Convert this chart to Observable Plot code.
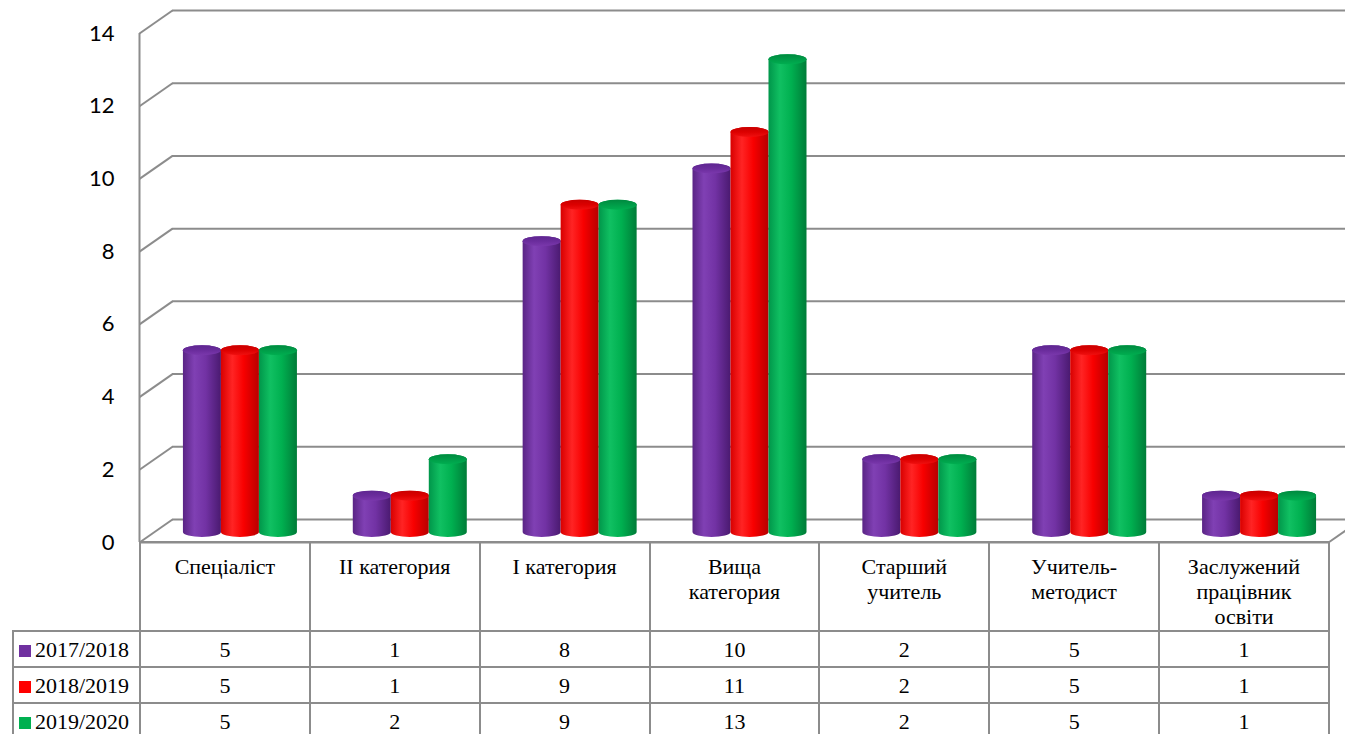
<!DOCTYPE html>
<html><head><meta charset="utf-8">
<script src="https://cdn.jsdelivr.net/npm/d3@7"></script>
<script src="https://cdn.jsdelivr.net/npm/@observablehq/plot@0.6"></script>
<style>
html,body{margin:0;padding:0;background:#fff;overflow:hidden;}
#wrap{position:relative;width:1345px;height:734px;overflow:hidden;}
#wrap svg{position:absolute;left:0;top:0;}
#tbl{position:absolute;left:12px;top:541px;width:1316px;border-collapse:collapse;table-layout:fixed;font-family:"Liberation Serif","Times New Roman",serif;font-size:22px;color:#000;}
#tbl td{border:2px solid #8c8c8c;text-align:center;padding:0;line-height:25px;}
#tbl tr.head td{vertical-align:top;padding-top:11px;white-space:pre-line;height:76px;}
#tbl tr.head td.corner{border-top:none;border-left:none;}
#tbl tr.row td{height:34px;}
#tbl td.leg{text-align:left;padding-left:5px;white-space:nowrap;}
#tbl .sw{display:inline-block;width:12px;height:12px;margin-right:4px;vertical-align:0px;}
</style></head>
<body><div id="wrap"></div>
<script>
// ---- data ----
const categories = ["Спеціаліст","II категория","I категория","Вища категория","Старший учитель","Учитель-методист","Заслужений працівник освіти"];
const categoryLabels = ["Спеціаліст","II категория","I категория","Вища\nкатегория","Старший\nучитель","Учитель-\nметодист","Заслужений\nпрацівник\nосвіти"];
const seriesNames = ["2017/2018","2018/2019","2019/2020"];
const values2017 = [5, 1, 8, 10, 2, 5, 1];
const values2018 = [5, 1, 9, 11, 2, 5, 1];
const values2019 = [5, 2, 9, 13, 2, 5, 1];
const yTicks = [0, 2, 4, 6, 8, 10, 12, 14];
const seriesColors = ["#7030A0", "#FF0000", "#00B050"];

// ---- layout / style ----
const W = 1345, H = 560, mL = 139, mR = 17, mT = 33, mB = 18;
const yMax = 14;
const nCat = categories.length;
const pxX = (W - mL - mR) / nCat;
const pxY = (H - mT - mB) / yMax;
const DEPTH_X = 33, DEPTH_Y = 23;
const BAR_W = 38, CYL_DX = 16, CYL_DY = -10, RY = 5;
const GRID = "#8c8c8c";

const seriesValues = [values2017, values2018, values2019];
const rows = [];
seriesNames.forEach((s, si) => seriesValues[si].forEach((v, ci) => rows.push({series: s, si, ci, cat: categories[ci], value: v})));
const bw = BAR_W / pxX;
const bx1 = d => d.ci + 0.5 + (d.si - 1) * bw - bw / 2;
const bx2 = d => bx1(d) + bw;

const cylMarks = [];
seriesNames.forEach((s, si) => {
  const data = rows.filter(d => d.si === si);
  cylMarks.push(Plot.rect(data, {x1: bx1, x2: bx2, y1: 0, y2: "value", fill: `url(#body${si})`,
    rx: BAR_W / 2, ry: RY, insetTop: -RY, insetBottom: -RY, dx: CYL_DX, dy: CYL_DY}));
  cylMarks.push(Plot.rect(data, {x1: bx1, x2: bx2, y1: "value", y2: "value", fill: `url(#top${si})`,
    rx: BAR_W / 2, ry: RY, insetTop: -RY, insetBottom: -RY, dx: CYL_DX, dy: CYL_DY}));
});

const plot = Plot.plot({
  width: W, height: H,
  marginLeft: mL, marginRight: mR, marginTop: mT, marginBottom: mB,
  style: {overflow: "hidden", background: "transparent"},
  x: {type: "linear", domain: [0, nCat], axis: null},
  y: {domain: [0, yMax], axis: null},
  marks: [
    Plot.ruleY(yTicks, {dx: DEPTH_X, dy: -DEPTH_Y, stroke: GRID, strokeWidth: 2}),
    Plot.link(yTicks, {x1: 0, x2: DEPTH_X / pxX, y1: d => d, y2: d => d + DEPTH_Y / pxY, stroke: GRID, strokeWidth: 2}),
    Plot.ruleX([0], {y1: 0, y2: yMax, stroke: GRID, strokeWidth: 2}),
    Plot.ruleY([0], {stroke: GRID, strokeWidth: 2}),
    Plot.link([0], {x1: nCat, x2: nCat + DEPTH_X / pxX, y1: 0, y2: DEPTH_Y / pxY, stroke: GRID, strokeWidth: 2}),
    Plot.text(yTicks, {x: 0, y: d => d, text: d => String(d), textAnchor: "end", dx: -25,
      fontSize: 22, fontFamily: "Lato, 'Open Sans', sans-serif", fill: "#000"}),
    ...cylMarks
  ]
});

// gradients
const defs = d3.select(plot).insert("defs", ":first-child");
const bodyStops = [
  [["0%", "#5a2485"], ["30%", "#8040b4"], ["60%", "#7232a4"], ["100%", "#4a1a70"]],
  [["0%", "#d80000"], ["30%", "#ff2424"], ["60%", "#f80000"], ["100%", "#b80000"]],
  [["0%", "#00964a"], ["30%", "#10c062"], ["60%", "#00b050"], ["100%", "#007c38"]]
];
const topStops = [
  [["0%", "#5e2690"], ["50%", "#6a2c9c"], ["100%", "#7a38ac"]],
  [["0%", "#c80000"], ["50%", "#dc0000"], ["100%", "#f01010"]],
  [["0%", "#00893f"], ["50%", "#009c48"], ["100%", "#00ae50"]]
];
bodyStops.forEach((st, i) => {
  const g = defs.append("linearGradient").attr("id", `body${i}`).attr("x1", 0).attr("x2", 1).attr("y1", 0).attr("y2", 0);
  st.forEach(([o, c]) => g.append("stop").attr("offset", o).attr("stop-color", c));
});
topStops.forEach((st, i) => {
  const g = defs.append("linearGradient").attr("id", `top${i}`).attr("x1", 0).attr("x2", 0).attr("y1", 0).attr("y2", 1);
  st.forEach(([o, c]) => g.append("stop").attr("offset", o).attr("stop-color", c));
});

const wrap = document.getElementById("wrap");
wrap.appendChild(plot);

// data table below the chart
const tbl = d3.select(wrap).append("table").attr("id", "tbl");
const cg = tbl.append("colgroup");
cg.append("col").style("width", (mL - 12) + "px");
categories.forEach(() => cg.append("col").style("width", pxX + "px"));
const head = tbl.append("tr").attr("class", "head");
head.append("td").attr("class", "corner");
categoryLabels.forEach(l => head.append("td").text(l));
seriesNames.forEach((s, si) => {
  const tr = tbl.append("tr").attr("class", "row");
  const lc = tr.append("td").attr("class", "leg");
  lc.append("span").attr("class", "sw").style("background", seriesColors[si]);
  lc.append("span").text(s);
  seriesValues[si].forEach(v => tr.append("td").text(v));
});
</script>
</body></html>
